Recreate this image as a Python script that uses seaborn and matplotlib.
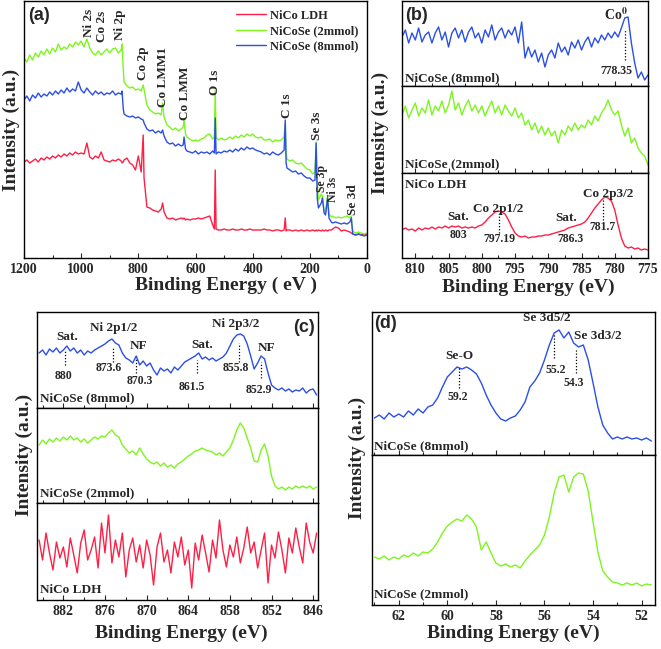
import matplotlib
matplotlib.use("Agg")
import matplotlib.pyplot as plt
import seaborn as sns
from matplotlib.ticker import MultipleLocator

# ---------------- (a) survey spectra ----------------
survey_ev = [
    1200, 1190, 1180, 1170, 1160, 1150, 1140, 1130, 1120, 1110,
    1100, 1090, 1080, 1070, 1060, 1050, 1040, 1030, 1020, 1010,
    1000, 990, 980, 970, 960, 950, 940, 930, 920, 910,
    900, 890, 880, 870, 860, 857, 853, 850, 840, 830,
    820, 810, 800, 790, 783, 780, 770, 760, 750, 740,
    730, 720, 715, 710, 700, 690, 680, 670, 660, 650,
    643, 640, 635, 630, 620, 610, 600, 590, 580, 570,
    560, 550, 540, 534, 531, 528, 520, 510, 500, 490,
    480, 470, 460, 450, 440, 430, 420, 410, 400, 390,
    380, 370, 360, 350, 340, 330, 320, 310, 300, 290,
    286, 283, 280, 270, 260, 250, 240, 230, 220, 210,
    200, 190, 182, 178, 174, 170, 160, 156, 150, 145,
    138, 133, 125, 120, 110, 100, 90, 80, 70, 60,
    55, 50, 40, 30, 20, 10, 0]
survey_ldh = [
    96, 98, 95, 97, 99, 96, 100, 98, 101, 99,
    102, 100, 103, 101, 104, 102, 105, 103, 106, 104,
    105, 104, 115, 101, 99, 102, 100, 106, 98, 97,
    96, 98, 97, 99, 97, 95, 96, 98, 100, 95,
    93, 88, 102, 86, 123, 80, 51, 50, 48, 47,
    46, 49, 55, 46, 40, 39, 40, 38, 39, 40,
    39, 40, 38, 39, 38, 39, 39, 40, 39, 40,
    41, 42, 33, 29, 88, 29, 28, 28, 29, 28,
    28, 29, 28, 28, 29, 28, 28, 29, 28, 28,
    28, 28, 29, 28, 28, 27, 28, 28, 27, 28,
    40, 27, 28, 28, 27, 28, 27, 28, 27, 28,
    27, 28, 27, 28, 27, 28, 27, 28, 27, 28,
    27, 28, 28, 29, 31, 30, 27, 28, 27, 26,
    25, 24, 23, 24, 23, 24, 23]
survey_2mmol = [
    200, 196, 203, 198, 205, 201, 207, 203, 209, 204,
    210, 206, 214, 208, 211, 209, 214, 211, 216, 213,
    217, 211, 219, 210, 205, 203, 207, 203, 206, 209,
    205, 209, 210, 205, 208, 214, 190, 176, 172, 170,
    171, 168, 169, 167, 173, 168, 153, 148, 146, 144,
    145, 143, 155, 141, 133, 131, 128, 130, 127, 129,
    131, 138, 124, 121, 119, 117, 118, 117, 119, 120,
    123, 124, 119, 121, 168, 121, 118, 120, 118, 119,
    121, 119, 122, 120, 123, 121, 124, 122, 124, 121,
    120, 121, 118, 118, 119, 116, 118, 117, 118, 121,
    135, 105, 99, 97, 98, 95, 94, 95, 92, 89,
    88, 84, 86, 116, 75, 58, 64, 62, 47, 46,
    62, 44, 41, 42, 40, 41, 40, 41, 42, 40,
    42, 27, 25, 26, 25, 24, 25]
survey_8mmol = [
    158, 162, 157, 163, 160, 165, 161, 164, 162, 166,
    163, 167, 164, 168, 165, 170, 166, 169, 167, 176,
    168, 165, 170, 166, 163, 167, 164, 166, 163, 165,
    164, 167, 163, 165, 164, 167, 150, 144, 142, 141,
    142, 140, 141, 139, 138, 135, 129, 127, 128, 125,
    127, 125, 128, 122, 116, 114, 115, 112, 114, 112,
    113, 121, 109, 107, 106, 105, 107, 104, 106, 105,
    106, 104, 107, 105, 140, 104, 106, 105, 107, 106,
    108, 106, 109, 107, 110, 108, 111, 109, 110, 108,
    107, 106, 104, 105, 103, 106, 104, 103, 105, 108,
    138, 95, 90, 88, 86, 87, 84, 85, 82, 80,
    80, 77, 78, 115, 60, 50, 55, 60, 45, 43,
    60, 40, 36, 35, 36, 35, 34, 35, 34, 36,
    40, 24, 23, 24, 23, 22, 23]

# ---------------- (b) Co 2p ----------------
co2p_ev = [
    812.0, 811.5, 811.0, 810.5, 810.0, 809.5, 809.0, 808.5, 808.0, 807.5,
    807.0, 806.5, 806.0, 805.5, 805.0, 804.5, 804.0, 803.5, 803.0, 802.5,
    802.0, 801.5, 801.0, 800.5, 800.0, 799.5, 799.0, 798.5, 798.0, 797.5,
    797.0, 796.5, 796.0, 795.5, 795.0, 794.5, 794.0, 793.5, 793.0, 792.5,
    792.0, 791.5, 791.0, 790.5, 790.0, 789.5, 789.0, 788.5, 788.0, 787.5,
    787.0, 786.5, 786.0, 785.5, 785.0, 784.5, 784.0, 783.5, 783.0, 782.5,
    782.0, 781.5, 781.0, 780.5, 780.0, 779.5, 779.0, 778.5, 778.0, 777.5,
    777.0, 776.5, 776.0, 775.5, 775.0]
co2p_8mmol = [
    49, 56, 43, 53, 46, 58, 44, 51, 54, 43,
    53, 59, 46, 54, 39, 53, 58, 48, 56, 44,
    54, 59, 48, 53, 43, 56, 49, 61, 46, 54,
    58, 48, 56, 51, 59, 43, 64, 28, 39, 29,
    36, 24, 33, 19, 31, 36, 28, 43, 34, 39,
    31, 44, 38, 46, 36, 44, 49, 39, 48, 43,
    51, 46, 53, 48, 54, 49, 58, 68, 69, 43,
    23, 8, 14, 6, 11]
co2p_2mmol = [
    58, 67, 55, 63, 70, 57, 65, 60, 73, 58,
    67, 62, 72, 60, 68, 82, 63, 70, 58, 67,
    73, 62, 68, 60, 67, 57, 65, 72, 60, 67,
    58, 68, 62, 57, 65, 55, 60, 48, 53, 43,
    50, 40, 47, 38, 45, 37, 42, 30, 43, 38,
    47, 42, 50, 43, 48, 45, 53, 48, 57, 52,
    60, 65, 73, 63, 58, 62, 48, 37, 45, 30,
    35, 25, 20, 17, 8]
co2p_ldh = [
    28, 30, 28, 29, 27, 30, 28, 30, 29, 31,
    29, 31, 30, 32, 30, 32, 31, 32, 30, 31,
    30, 31, 30, 32, 33, 36, 40, 43, 46, 47,
    46, 44, 38, 31, 25, 22, 21, 22, 20, 21,
    21, 22, 22, 23, 23, 24, 25, 26, 27, 28,
    30, 31, 32, 33, 34, 36, 40, 45, 50, 54,
    58, 61, 60, 57, 48, 33, 20, 12, 10, 11,
    9, 10, 8, 9, 8]

# ---------------- (c) Ni 2p ----------------
ni2p_ev = [
    885.5, 885.0, 884.5, 884.0, 883.5, 883.0, 882.5, 882.0, 881.5, 881.0,
    880.5, 880.0, 879.5, 879.0, 878.5, 878.0, 877.5, 877.0, 876.5, 876.0,
    875.5, 875.0, 874.5, 874.0, 873.5, 873.0, 872.5, 872.0, 871.5, 871.0,
    870.5, 870.0, 869.5, 869.0, 868.5, 868.0, 867.5, 867.0, 866.5, 866.0,
    865.5, 865.0, 864.5, 864.0, 863.5, 863.0, 862.5, 862.0, 861.5, 861.0,
    860.5, 860.0, 859.5, 859.0, 858.5, 858.0, 857.5, 857.0, 856.5, 856.0,
    855.5, 855.0, 854.5, 854.0, 853.5, 853.0, 852.5, 852.0, 851.5, 851.0,
    850.5, 850.0, 849.5, 849.0, 848.5, 848.0, 847.5, 847.0, 846.5, 846.0,
    845.5]
ni2p_8mmol = [
    55, 58, 53, 59, 56, 60, 55, 58, 62, 57,
    60, 55, 58, 53, 57, 55, 58, 60, 62, 64,
    67, 69, 65, 63, 55, 50, 48, 45, 52, 43,
    47, 42, 45, 38, 33, 40, 37, 39, 35, 41,
    38, 42, 46, 48, 50, 52, 55, 49, 51, 48,
    50, 47, 49, 51, 55, 62, 69, 73, 74, 72,
    64, 52, 39, 45, 52, 49, 35, 23, 20, 18,
    20, 17, 19, 16, 18, 17, 20, 15, 18, 19,
    13]
ni2p_2mmol = [
    58, 63, 59, 64, 61, 65, 62, 66, 63, 67,
    63, 65, 61, 64, 60, 63, 66, 64, 67, 66,
    70, 73, 68, 66, 58, 54, 50, 52, 48, 55,
    49, 44, 41, 39, 41, 37, 40, 36, 38, 35,
    39, 41, 44, 47, 49, 52, 53, 55, 53, 52,
    51, 48, 50, 47, 51, 55, 63, 73, 80, 75,
    65, 55, 42, 41, 53, 59, 47, 27, 17, 14,
    16, 13, 16, 14, 17, 15, 17, 15, 17, 14,
    16]
ni2p_ldh = [
    60, 40, 67, 47, 30, 58, 42, 53, 33, 62,
    45, 27, 57, 70, 40, 50, 63, 32, 77, 47,
    85, 37, 60, 43, 67, 23, 50, 62, 38, 55,
    32, 60, 45, 15, 53, 67, 38, 50, 27, 58,
    43, 63, 35, 50, 12, 57, 40, 65, 47, 28,
    60, 42, 80, 50, 33, 55, 43, 63, 37, 52,
    73, 47, 58, 32, 50, 67, 17, 55, 42, 68,
    50, 27, 62, 47, 72, 53, 37, 77, 58, 47,
    67]

# ---------------- (d) Se 3d ----------------
se3d_ev = [
    63.0, 62.8, 62.6, 62.4, 62.2, 62.0, 61.8, 61.6, 61.4, 61.2,
    61.0, 60.8, 60.6, 60.4, 60.2, 60.0, 59.8, 59.6, 59.4, 59.2,
    59.0, 58.8, 58.6, 58.4, 58.2, 58.0, 57.8, 57.6, 57.4, 57.2,
    57.0, 56.8, 56.6, 56.4, 56.2, 56.0, 55.8, 55.6, 55.4, 55.2,
    55.0, 54.8, 54.6, 54.4, 54.2, 54.0, 53.8, 53.6, 53.4, 53.2,
    53.0, 52.8, 52.6, 52.4, 52.2, 52.0, 51.8, 51.6]
se3d_8mmol = [
    37, 40, 36, 42, 38, 41, 38, 44, 40, 46,
    42, 48, 50, 57, 68, 78, 83, 88, 86, 88,
    85, 81, 72, 60, 50, 42, 36, 34, 37, 39,
    45, 53, 68, 74, 82, 95, 110, 122, 125, 117,
    123, 112, 108, 110, 95, 72, 48, 30, 22, 16,
    18, 16, 18, 16, 17, 15, 17, 14]
se3d_2mmol = [
    48, 46, 49, 45, 48, 46, 50, 48, 52, 49,
    53, 52, 56, 63, 72, 79, 83, 86, 84, 90,
    86, 78, 55, 63, 52, 42, 39, 41, 38, 40,
    37, 44, 50, 55, 60, 70, 88, 112, 128, 130,
    113, 128, 132, 131, 114, 83, 53, 34, 28, 23,
    22, 20, 22, 20, 22, 19, 21, 20]

RED, GREEN, BLUE = "#ff1f45", "#7df51f", "#2b4fe6"

sns.set_style("ticks")
plt.rcParams["font.family"] = ["Liberation Serif", "DejaVu Serif"]
plt.rcParams["font.weight"] = "bold"
plt.rcParams["mathtext.fontset"] = "stix"

W, H = 661, 649
fig = plt.figure(figsize=(W / 100, H / 100), dpi=100)


def px_axes(left, top, right, bottom):
    # axes placed by pixel box of the reference
    return fig.add_axes([left / W, 1 - bottom / H, (right - left) / W, (bottom - top) / H])


def ftext(x, y, s, **kw):
    fig.text(x / W, 1 - y / H, s, **kw)


def style(ax, xlim, ylim, major, minor, labels):
    ax.set_xlim(*xlim)
    ax.set_ylim(*ylim)
    ax.set_yticks([])
    ax.xaxis.set_major_locator(MultipleLocator(major))
    ax.xaxis.set_minor_locator(MultipleLocator(minor))
    ax.tick_params(axis="x", which="both", direction="in", width=0.8,
                   labelsize=10, labelbottom=labels)
    ax.tick_params(axis="x", which="major", length=3.5)
    ax.tick_params(axis="x", which="minor", length=2)
    for s in ax.spines.values():
        s.set_linewidth(1.0)
        s.set_color("black")
    for t in ax.get_xticklabels():
        t.set_fontweight("bold")


def curve(ax, xs, ys, color, label=None):
    sns.lineplot(x=xs, y=ys, ax=ax, color=color, linewidth=1.0,
                 estimator=None, label=label)


def dots(ax, x, y0, y1):
    ax.vlines(x, y0, y1, colors="black", linestyles=(0, (1, 1.5)), linewidth=0.9)


small = dict(fontsize=8.5, fontweight="bold", ha="center", va="center")
peak = dict(fontsize=9.5, fontweight="bold", ha="center", va="center")
name = dict(fontsize=9.5, fontweight="bold", ha="left")
tag = dict(fontsize=13, fontweight="bold", family="Liberation Sans")

# ---------------- panel (a) ----------------
ax_a = px_axes(24, 1, 367, 258)
curve(ax_a, survey_ev, survey_ldh, RED, "NiCo LDH")
curve(ax_a, survey_ev, survey_2mmol, GREEN, "NiCoSe (2mmol)")
curve(ax_a, survey_ev, survey_8mmol, BLUE, "NiCoSe (8mmol)")
style(ax_a, (1200, 0), (0, 257), 200, 100, True)
ax_a.legend(loc="upper right", bbox_to_anchor=(0.99, 0.985), frameon=False,
            fontsize=9, handlelength=2.4, handletextpad=0.3, labelspacing=0.25,
            borderaxespad=0)
ax_a.text(0.012, 0.975, "(a)", transform=ax_a.transAxes, va="top", **tag)
survey_peaks = [("Ni 2s", 974, 221, 9.5), ("Co 2s", 928, 216, 9.5),
                ("Ni 2p", 864, 218, 9.5), ("Co 2p", 784, 178, 9.5),
                ("Co LMM1", 714, 151, 9.5), ("Co LMM", 637, 138, 9.5),
                ("O 1s", 532, 163, 9.5), ("C 1s", 281, 140, 9.5),
                ("Se 3s", 176, 118, 9.5), ("Se 3p", 156, 66, 8.5),
                ("Ni 3s", 118, 56, 8.5), ("Se 3d", 50, 43, 9.5)]
for s, x, y, fs in survey_peaks:
    ax_a.text(x, y, s, rotation=90, ha="center", va="bottom", fontsize=fs,
              fontweight="bold")
ftext(226, 285, "Binding Energy ( eV )", fontsize=14, fontweight="bold",
      ha="center", va="center")
ftext(11, 130, "Intensity (a.u.)", fontsize=14, fontweight="bold",
      ha="center", va="center", rotation=90)

# ---------------- panel (b) ----------------
b_top = px_axes(402, 1, 648, 86)
b_mid = px_axes(402, 86, 648, 173)
b_bot = px_axes(402, 173, 648, 258)
curve(b_top, co2p_ev, co2p_8mmol, BLUE)
curve(b_mid, co2p_ev, co2p_2mmol, GREEN)
curve(b_bot, co2p_ev, co2p_ldh, RED)
style(b_top, (812, 775), (0, 85), 5, 2.5, False)
style(b_mid, (812, 775), (0, 87), 5, 2.5, False)
style(b_bot, (812, 775), (0, 85), 5, 2.5, True)
b_top.text(811.5, 79, "(b)", va="top", **tag)
b_top.text(779.8, 66, r"Co$^{\mathbf{0}}$", fontsize=10, fontweight="bold",
           ha="center", va="baseline")
dots(b_top, 778.5, 26, 56)
b_top.text(779.8, 15, "778.35", **small)
b_top.text(811.5, 2, "NiCoSe (8mmol)", va="bottom", **name)
b_mid.text(811.5, 3, "NiCoSe (2mmol)", va="bottom", **name)
b_bot.text(811.5, 79, "NiCo LDH", va="top", **name)
b_bot.text(797.6, 49, "Co 2p1/2", **peak)
b_bot.text(781.0, 64, "Co 2p3/2", **peak)
b_bot.text(803.5, 41, "Sat.", **peak)
b_bot.text(803.5, 23, "803", **small)
dots(b_bot, 797.35, 25, 45)
b_bot.text(797.4, 19, "797.19", **small)
b_bot.text(787.3, 40, "Sat.", **peak)
b_bot.text(786.7, 19, "786.3", **small)
dots(b_bot, 781.75, 38, 58)
b_bot.text(781.9, 31, "781.7", **small)
ftext(528, 287, "Binding Energy (eV)", fontsize=14, fontweight="bold",
      ha="center", va="center")
ftext(380, 133, "Intensity (a.u.)", fontsize=14, fontweight="bold",
      ha="center", va="center", rotation=90)

# ---------------- panel (c) ----------------
c_top = px_axes(37, 312, 318, 408)
c_mid = px_axes(37, 408, 318, 503)
c_bot = px_axes(37, 503, 318, 600)
curve(c_top, ni2p_ev, ni2p_8mmol, BLUE)
curve(c_mid, ni2p_ev, ni2p_2mmol, GREEN)
curve(c_bot, ni2p_ev, ni2p_ldh, RED)
style(c_top, (885.8, 845.3), (0, 96), 6, 3, False)
style(c_mid, (885.8, 845.3), (0, 95), 6, 3, False)
style(c_bot, (885.8, 845.3), (0, 97), 6, 3, True)
c_top.text(847.3, 80, "(c)", ha="center", va="center", **tag)
c_top.text(881.5, 71, "Sat.", **peak)
dots(c_top, 881.7, 43, 58)
c_top.text(882.0, 32, "880", **small)
c_top.text(874.7, 80, "Ni 2p1/2", **peak)
dots(c_top, 874.9, 46, 61)
c_top.text(875.5, 40, "873.6", **small)
c_top.text(871.1, 62, "NF", **peak)
dots(c_top, 871.5, 35, 50)
c_top.text(871.0, 27, "870.3", **small)
c_top.text(862.0, 63, "Sat.", **peak)
dots(c_top, 862.7, 35, 48)
c_top.text(863.5, 21, "861.5", **small)
c_top.text(857.2, 84, "Ni 2p3/2", **peak)
dots(c_top, 856.7, 46, 65)
c_top.text(857.2, 40, "855.8", **small)
c_top.text(852.7, 60, "NF", **peak)
dots(c_top, 853.5, 30, 46)
c_top.text(853.9, 18, "852.9", **small)
c_top.text(885.3, 4, "NiCoSe (8mmol)", va="bottom", **name)
c_mid.text(885.3, 4, "NiCoSe (2mmol)", va="bottom", **name)
c_bot.text(885.3, 4, "NiCo LDH", va="bottom", **name)
ftext(181, 633, "Binding Energy (eV)", fontsize=14, fontweight="bold",
      ha="center", va="center")
ftext(24, 455, "Intensity (a.u.)", fontsize=14, fontweight="bold",
      ha="center", va="center", rotation=90)

# ---------------- panel (d) ----------------
d_top = px_axes(372, 312, 655, 455)
d_bot = px_axes(372, 455, 655, 605)
curve(d_top, se3d_ev, se3d_8mmol, BLUE)
curve(d_bot, se3d_ev, se3d_2mmol, GREEN)
style(d_top, (63.1, 51.45), (0, 143), 2, 1, False)
style(d_bot, (63.1, 51.45), (0, 150), 2, 1, True)
d_top.text(63.0, 131, "(d)", va="center", **tag)
d_top.text(59.5, 99, "Se-O", **peak)
dots(d_top, 59.5, 67, 88)
d_top.text(59.55, 58, "59.2", **small)
d_top.text(55.9, 137, "Se 3d5/2", **peak)
dots(d_top, 55.6, 97, 122)
d_top.text(55.55, 85, "55.2", **small)
d_top.text(53.8, 119, "Se 3d3/2", **peak)
dots(d_top, 54.7, 82, 105)
d_top.text(54.8, 72, "54.3", **small)
d_top.text(63.0, 3, "NiCoSe (8mmol)", va="bottom", **name)
d_bot.text(63.0, 5, "NiCoSe (2mmol)", va="bottom", **name)
ftext(513, 633, "Binding Energy (eV)", fontsize=14, fontweight="bold",
      ha="center", va="center")
ftext(357, 458, "Intensity (a.u.)", fontsize=14, fontweight="bold",
      ha="center", va="center", rotation=90)

fig.savefig("out.png", dpi=100)
plt.close(fig)
